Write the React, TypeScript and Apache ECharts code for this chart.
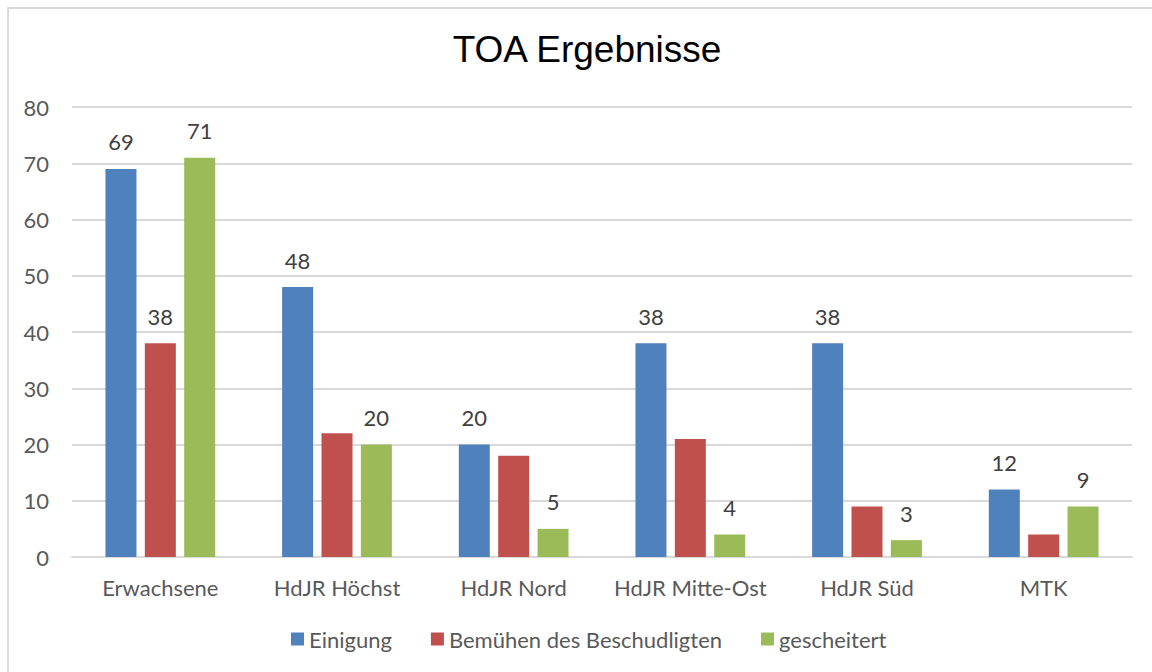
import React, { useEffect, useRef } from "react";
import * as echarts from "echarts";

const categories = ["Erwachsene", "HdJR Höchst", "HdJR Nord", "HdJR Mitte-Ost", "HdJR Süd", "MTK"];
const seriesNames = ["Einigung", "Bemühen des Beschudligten", "gescheitert"];
const einigung = [69, 48, 20, 38, 38, 12];
const bemuehen = [38, 22, 18, 21, 9, 4];
const gescheitert = [71, 20, 5, 4, 3, 9];
const einigungLabelShown = [true, true, true, true, true, true];
const bemuehenLabelShown = [true, false, false, false, false, false];
const gescheitertLabelShown = [true, true, true, true, true, true];
const colors = ["#4F81BD", "#C0504D", "#9BBB59"];
const yTicks = { min: 0, max: 80, interval: 10 };

const FONT = "Lato, 'Open Sans', sans-serif";

export default function App() {
  const ref = useRef<HTMLDivElement>(null);
  useEffect(() => {
    if (!ref.current) return;
    const chart = echarts.init(ref.current, undefined, { renderer: "svg" });
    const mk = (vals: number[], shown: boolean[]) =>
      vals.map((v, i) => ({ value: v, label: { show: shown[i] } }));
    const datasets = [
      mk(einigung, einigungLabelShown),
      mk(bemuehen, bemuehenLabelShown),
      mk(gescheitert, gescheitertLabelShown),
    ];
    chart.setOption({
      animation: false,
      backgroundColor: "#ffffff",
      title: {
        text: "TOA Ergebnisse",
        left: 582,
        top: 26,
        textAlign: "center",
        textStyle: {
          fontFamily: "'Liberation Sans', Arial, sans-serif",
          fontSize: 37,
          fontWeight: "normal",
          color: "#000000",
        },
      },
      graphic: [
        {
          type: "polyline",
          shape: { points: [[8, 672], [8, 8], [1152, 8]] },
          style: { stroke: "#d9d9d9", lineWidth: 2, fill: "none" },
          silent: true,
        },
      ],
      legend: {
        left: 286,
        top: 623,
        itemWidth: 13,
        itemHeight: 13,
        itemGap: 39,
        icon: "rect",
        textStyle: { fontFamily: FONT, fontSize: 22, color: "#595959" },
        data: seriesNames,
      },
      grid: { left: 72, right: 20, top: 107, bottom: 115, containLabel: false },
      xAxis: {
        type: "category",
        data: categories,
        axisLine: { lineStyle: { color: "#d9d9d9", width: 2 } },
        axisTick: { show: false },
        axisLabel: { interval: 0, fontFamily: FONT, fontSize: 22, color: "#595959", margin: 19 },
      },
      yAxis: {
        type: "value",
        min: yTicks.min,
        max: yTicks.max,
        interval: yTicks.interval,
        axisLine: { show: false },
        axisTick: { show: false },
        splitLine: { lineStyle: { color: "#d9d9d9", width: 2 } },
        axisLabel: { fontFamily: FONT, fontSize: 22, color: "#595959", margin: 23 },
      },
      series: seriesNames.map((name, k) => ({
        name,
        type: "bar",
        data: datasets[k],
        barWidth: 31,
        barGap: "27%",
        itemStyle: { color: colors[k] },
        label: {
          position: "top",
          distance: 16,
          fontFamily: FONT,
          fontSize: 22,
          color: "#404040",
        },
      })),
    });
    return () => chart.dispose();
  }, []);
  return (
    <div
      ref={ref}
      style={{ position: "absolute", left: 0, top: 0, width: 1152, height: 672 }}
    />
  );
}
